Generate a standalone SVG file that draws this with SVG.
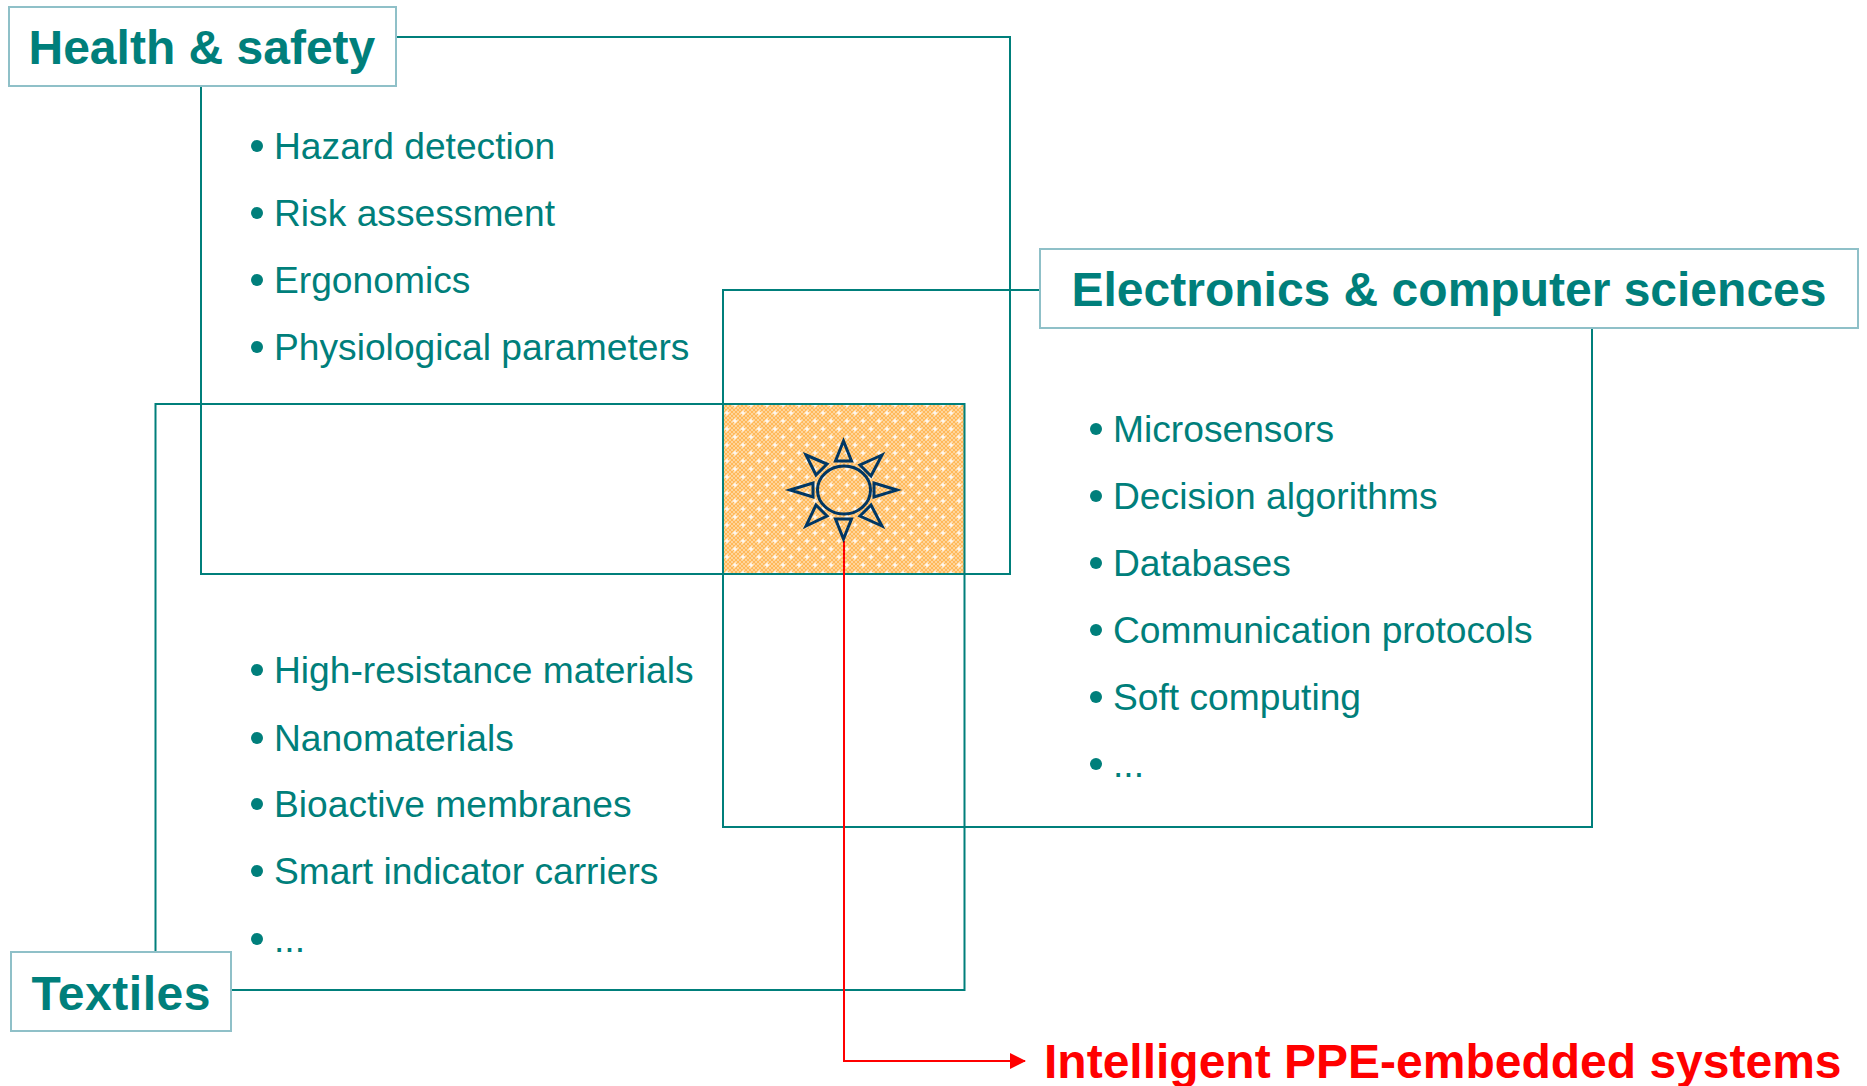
<svg xmlns="http://www.w3.org/2000/svg" width="1867" height="1086" viewBox="0 0 1867 1086">
<style>
.l{fill:none;stroke:#007f7b;stroke-width:2}
.b{fill:#fff;stroke:#8fc0c8;stroke-width:2}
.h{font:bold 48px "Liberation Sans",Arial,sans-serif;fill:#007f7b}
.t{font:37.2px "Liberation Sans",Arial,sans-serif;fill:#007f7b}
.d{fill:#007f7b}
.s{fill:none;stroke:#003764;stroke-width:3}
</style>
<defs>
<pattern id="p" width="4" height="4" patternUnits="userSpaceOnUse">
<rect width="4" height="4" fill="#ffb95a"/><rect width="2" height="2" fill="#ffd59a"/><rect x="2" y="2" width="2" height="2" fill="#ffd59a"/>
</pattern>
<path id="c" d="M-2.500 0H2.500M0-2.500V2.500" stroke="#fff" stroke-width="1.500" opacity="0.9"/>
<pattern id="q" width="16" height="16" patternUnits="userSpaceOnUse" x="731" y="401">
<rect width="16" height="16" fill="url(#p)"/>
<use href="#c" x="4" y="4"/><use href="#c" x="12" y="12"/>
</pattern>
<marker id="a" markerWidth="16" markerHeight="16" refX="15" refY="8" orient="auto" markerUnits="userSpaceOnUse"><path d="M0 0L16 8L0 16Z" fill="#f00"/></marker>
</defs>
<g id="overlap"><rect x="723" y="404" width="241" height="170" fill="url(#q)"/></g>
<g id="connectors">
<path class="l" d="M396 37H1010V574H201V86"/>
<path class="l" d="M1040 290H723V827H1592V328"/>
<path class="l" d="M155.500 952V404H964.500V990H231"/>
<path d="M844 541V1061H1025" fill="none" stroke="#f00" stroke-width="2" marker-end="url(#a)"/>
</g>
<g id="sun">
<ellipse cx="844" cy="490" rx="26.500" ry="24" class="s"/>
<path class="s" d="M843.500 441L835.500 461H851.500ZM843.500 539L835.500 519H851.500ZM790 490L813 483V497ZM897 490L874 483V497ZM806 455L827 464L816 475ZM882 455L860 465L871 476ZM806 526L827 516L816 505ZM882 526L860 516L871 505Z"/>
</g>
<g id="health"><rect class="b" x="9" y="7" width="387" height="79"/><text class="h" x="28.500" y="64">Health &amp; safety</text></g>
<g id="electronics"><rect class="b" x="1040" y="249" width="818" height="79"/><text class="h" x="1071.500" y="306">Electronics &amp; computer sciences</text></g>
<g id="textiles"><rect class="b" x="11" y="952" width="220" height="79"/><text class="h" x="31.500" y="1010" textLength="179" lengthAdjust="spacing">Textiles</text></g>
<g id="health-list">
<circle class="d" cx="257" cy="146" r="6"/><text class="t" x="274" y="159">Hazard detection</text>
<circle class="d" cx="257" cy="213" r="6"/><text class="t" x="274" y="226">Risk assessment</text>
<circle class="d" cx="257" cy="280" r="6"/><text class="t" x="274" y="293">Ergonomics</text>
<circle class="d" cx="257" cy="347" r="6"/><text class="t" x="274" y="360">Physiological parameters</text>
</g>
<g id="electronics-list">
<circle class="d" cx="1096" cy="429" r="6"/><text class="t" x="1113" y="442">Microsensors</text>
<circle class="d" cx="1096" cy="496" r="6"/><text class="t" x="1113" y="509">Decision algorithms</text>
<circle class="d" cx="1096" cy="563" r="6"/><text class="t" x="1113" y="576">Databases</text>
<circle class="d" cx="1096" cy="630" r="6"/><text class="t" x="1113" y="643">Communication protocols</text>
<circle class="d" cx="1096" cy="697" r="6"/><text class="t" x="1113" y="710">Soft computing</text>
<circle class="d" cx="1096" cy="764" r="6"/><text class="t" x="1113" y="777">...</text>
</g>
<g id="textiles-list">
<circle class="d" cx="257" cy="670" r="6"/><text class="t" x="274" y="683">High-resistance materials</text>
<circle class="d" cx="257" cy="738" r="6"/><text class="t" x="274" y="751">Nanomaterials</text>
<circle class="d" cx="257" cy="804" r="6"/><text class="t" x="274" y="817">Bioactive membranes</text>
<circle class="d" cx="257" cy="871" r="6"/><text class="t" x="274" y="884">Smart indicator carriers</text>
<circle class="d" cx="257" cy="939" r="6"/><text class="t" x="274" y="952">...</text>
</g>
<g id="result"><text x="1044" y="1078" style="font:bold 48px 'Liberation Sans',Arial,sans-serif;fill:#f00">Intelligent PPE-embedded systems</text></g>
</svg>
